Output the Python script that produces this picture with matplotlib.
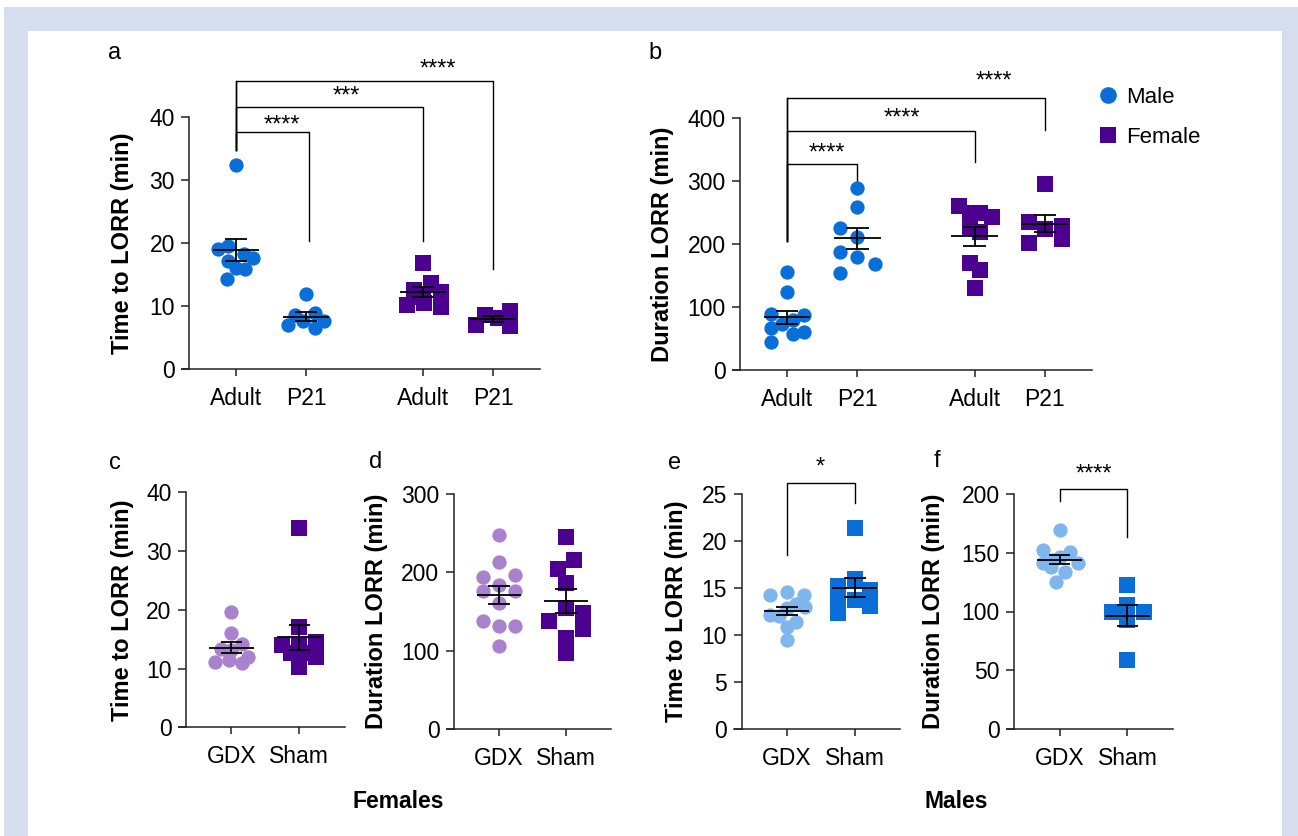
import numpy as np
import matplotlib
matplotlib.use("Agg")
import matplotlib.pyplot as plt
from matplotlib.patches import Rectangle
from matplotlib.lines import Line2D

plt.rcParams['font.family'] = ['Liberation Sans', 'DejaVu Sans']

# ---------------------------------------------------------------------------
# data (values, and horizontal jitter in category units)

# a: Time to LORR (min)
a_male_adult = [32.4, 19.0, 19.5, 18.3, 17.6, 17.1, 16.0, 15.8, 14.3]
a_male_adult_jit = [0, -0.25, -0.12, 0.12, 0.25, -0.12, 0, 0.13, -0.13]
a_male_p21 = [11.9, 8.6, 8.9, 7.0, 7.6, 7.6, 6.5]
a_male_p21_jit = [0, -0.15, 0.13, -0.25, -0.05, 0.25, 0.13]
a_female_adult = [16.8, 13.7, 12.6, 12.3, 11.5, 10.2, 10.5, 9.8]
a_female_adult_jit = [0, 0.12, -0.13, 0.25, 0, -0.23, 0.02, 0.25]
a_female_p21 = [8.6, 9.2, 7.0, 8.1, 6.9]
a_female_p21_jit = [-0.12, 0.24, -0.24, 0.07, 0.24]

# b: Duration LORR (min)
b_male_adult = [155.9, 123.1, 88.2, 87.2, 79.3, 72.9, 67.1, 56.5, 60.8, 44.9]
b_male_adult_jit = [0, 0, -0.23, 0.24, 0.08, -0.07, -0.23, 0.08, 0.24, -0.23]
b_male_p21 = [288, 258.4, 224.6, 211.4, 187.6, 179.7, 168.6, 153.2]
b_male_p21_jit = [0, 0, -0.24, 0, -0.24, 0, 0.25, -0.24]
b_female_adult = [260, 249.7, 249.7, 241.8, 225.4, 219.5, 170.3, 158.7, 130.6]
b_female_adult_jit = [-0.23, -0.07, 0.08, 0.25, -0.07, 0.08, -0.07, 0.08, 0]
b_female_p21 = [295, 235, 223.8, 228.6, 208, 202]
b_female_p21_jit = [0, -0.23, 0, 0.245, 0.245, -0.23]

# c / d: females, GDX vs Sham
c_gdx = [19.6, 16.0, 14.1, 13.4, 13.2, 12.0, 11.2, 11.4, 11.0]
c_gdx_jit = [0, 0, 0.15, -0.15, 0, 0.25, -0.24, -0.04, 0.15]
c_sham = [33.9, 17.1, 14.0, 14.6, 14.0, 12.6, 12.6, 12.0, 10.3, 11.8]
c_sham_jit = [0, 0, -0.25, 0.25, 0, -0.13, 0.12, 0.25, 0, 0]
d_gdx = [247.7, 213.6, 193.6, 196.2, 183.8, 176.6, 176.6, 161.3, 137.9, 131.9, 131.9, 106.4]
d_gdx_jit = [0, 0, -0.24, 0.24, 0, -0.24, 0.24, 0, -0.24, 0, 0.24, 0]
d_sham = [245.5, 215.7, 203.8, 186.8, 147.7, 137.9, 154.0, 127.7, 116.6, 97.4]
d_sham_jit = [0, 0.12, -0.12, 0, 0.25, -0.25, 0, 0.25, 0, 0]

# e / f: males, GDX vs Sham
e_gdx = [14.6, 14.3, 14.3, 13.3, 13.0, 12.85, 12.1, 11.4, 12.0, 10.9, 9.5]
e_gdx_jit = [0, -0.25, 0.25, 0.13, 0.27, 0, -0.25, 0.13, -0.12, 0, 0]
e_sham = [21.4, 16.0, 15.2, 14.8, 13.7, 13.1, 12.4, 13.8]
e_sham_jit = [0, 0, -0.25, 0.23, 0, 0.23, -0.25, -0.25]
f_gdx = [169.4, 152.3, 150.9, 146.0, 143.5, 141.0, 141.0, 138.0, 134.0, 125.4]
f_gdx_jit = [0, -0.24, 0.15, 0, -0.1, -0.24, 0.27, -0.12, 0.08, -0.05]
f_sham = [122.6, 105.5, 99.9, 99.9, 92.8, 58.7]
f_sham_jit = [0, 0, -0.23, 0.25, 0, 0]

age_labels = ['Adult', 'P21', 'Adult', 'P21']
surg_labels = ['GDX', 'Sham']

# ---------------------------------------------------------------------------
blue = '#0a6ed8'
purple = '#4b0090'
lilac = '#a882cc'
skyblue = '#80b6ee'

W, H = 1298, 836
fig = plt.figure(figsize=(W / 100, H / 100), dpi=100)
fig.patch.set_facecolor('white')
fig.patches.append(Rectangle((4 / W, 0), 1 - 4 / W, 1 - 7 / H, transform=fig.transFigure,
                             facecolor='#d5ddef', edgecolor='none', zorder=-2))
fig.patches.append(Rectangle((28 / W, 0), (1282 - 28) / W, 1 - 31 / H, transform=fig.transFigure,
                             facecolor='white', edgecolor='none', zorder=-1))


def make_axes(left, right, top, bottom):
    ax = fig.add_axes([left / W, 1 - bottom / H, (right - left) / W, (bottom - top) / H])
    ax.set_facecolor('none')
    return ax


def style(ax, xpos, labels, ymax, ystep, ylabel, ylab_x):
    ax.set_xlim(-0.77, xpos[-1] + 0.67)
    ax.set_ylim(0, ymax)
    for s in ['top', 'right']:
        ax.spines[s].set_visible(False)
    ax.spines['left'].set_position(('data', -0.665))
    ax.spines['left'].set_bounds(0, ymax)
    for s in ['left', 'bottom']:
        ax.spines[s].set_linewidth(1.1)
        ax.spines[s].set_color('#222222')
    ax.set_xticks(xpos)
    ax.set_xticklabels(labels, fontsize=16.5)
    ax.set_yticks(np.arange(0, ymax + 0.1, ystep))
    ax.tick_params(axis='x', length=5, width=1.1, pad=8, colors='#222222', labelcolor='black')
    ax.tick_params(axis='y', length=5.5, width=1.1, pad=5, colors='#222222', labelcolor='black',
                   labelsize=16.5)
    ax.set_ylabel(ylabel, fontsize=17, fontweight='bold', va='center')
    pos = ax.get_position()
    ax.yaxis.set_label_coords((ylab_x / W - pos.x0) / pos.width, 0.5)


def group(ax, x, vals, jit, color, marker):
    vals = np.asarray(vals, dtype=float)
    ms = 10.3 if marker == 'o' else 11.0
    ax.plot(x + np.asarray(jit), vals, linestyle='none', marker=marker, ms=ms,
            color=color, mew=0, zorder=2, clip_on=False)
    m = vals.mean()
    sem = vals.std(ddof=1) / np.sqrt(len(vals))
    kw = dict(color='black', lw=1.3, zorder=3, solid_capstyle='butt')
    ax.plot([x - 0.33, x + 0.33], [m, m], **kw)
    ax.plot([x - 0.16, x + 0.16], [m + sem, m + sem], **kw)
    ax.plot([x - 0.16, x + 0.16], [m - sem, m - sem], **kw)
    ax.plot([x, x], [m - sem, m + sem], **kw)


def bracket(ax, x0, x1, y0, yh, y1, stars, sx, sy):
    ax.plot([x0, x0, x1, x1], [y0, yh, yh, y1], color='black', lw=1.0, clip_on=False, zorder=1)
    ax.text(sx, sy, stars, ha='center', va='center', fontsize=17, clip_on=False)


age_pos = [0, 1, 2.67, 3.67]
surg_pos = [0, 1]

# panel a
ax_a = make_axes(182, 540, 117, 369)
group(ax_a, age_pos[0], a_male_adult, a_male_adult_jit, blue, 'o')
group(ax_a, age_pos[1], a_male_p21, a_male_p21_jit, blue, 'o')
group(ax_a, age_pos[2], a_female_adult, a_female_adult_jit, purple, 's')
group(ax_a, age_pos[3], a_female_p21, a_female_p21_jit, purple, 's')
style(ax_a, age_pos, age_labels, 40, 10, 'Time to LORR (min)', 123)
ax_a.plot([0, 0], [34.8, 45.7], color='black', lw=1.0, clip_on=False)
bracket(ax_a, 0, 1.04, 34.8, 37.6, 20.3, '****', 0.65, 38.6)
bracket(ax_a, 0, age_pos[2], 34.8, 41.6, 20.3, '***', 1.57, 43.2)
bracket(ax_a, 0, age_pos[3], 34.8, 45.7, 15.9, '****', 2.88, 47.6)

# panel b
ax_b = make_axes(733, 1092, 117.7, 370)
group(ax_b, age_pos[0], b_male_adult, b_male_adult_jit, blue, 'o')
group(ax_b, age_pos[1], b_male_p21, b_male_p21_jit, blue, 'o')
group(ax_b, age_pos[2], b_female_adult, b_female_adult_jit, purple, 's')
group(ax_b, age_pos[3], b_female_p21, b_female_p21_jit, purple, 's')
style(ax_b, age_pos, age_labels, 400, 100, 'Duration LORR (min)', 662)
ax_b.plot([0, 0], [204.5, 431.7], color='black', lw=1.0, clip_on=False)
bracket(ax_b, 0, 1, 204.5, 326.5, 279, '****', 0.56, 343)
bracket(ax_b, 0, age_pos[2], 204.5, 379, 329, '****', 1.64, 399)
bracket(ax_b, 0, age_pos[3], 204.5, 431.7, 380, '****', 2.95, 458)

handles = [Line2D([], [], linestyle='none', marker='o', ms=12, color=blue, mew=0),
           Line2D([], [], linestyle='none', marker='s', ms=11.5, color=purple, mew=0)]
ax_b.legend(handles, ['Male', 'Female'], loc='upper left', bbox_to_anchor=(1098 / W, 1 - 87 / H),
            bbox_transform=fig.transFigure, frameon=False, fontsize=16, handlelength=0.9,
            handletextpad=0.35, labelspacing=0.85, borderaxespad=0, borderpad=0)

# panel c
ax_c = make_axes(179, 345, 492.3, 727.3)
group(ax_c, 0, c_gdx, c_gdx_jit, lilac, 'o')
group(ax_c, 1, c_sham, c_sham_jit, purple, 's')
style(ax_c, surg_pos, surg_labels, 40, 10, 'Time to LORR (min)', 122)

# panel d
ax_d = make_axes(447, 611, 494, 729)
group(ax_d, 0, d_gdx, d_gdx_jit, lilac, 'o')
group(ax_d, 1, d_sham, d_sham_jit, purple, 's')
style(ax_d, surg_pos, surg_labels, 300, 100, 'Duration LORR (min)', 376)

# panel e
ax_e = make_axes(734.4, 900.2, 494, 729.3)
group(ax_e, 0, e_gdx, e_gdx_jit, skyblue, 'o')
group(ax_e, 1, e_sham, e_sham_jit, blue, 's')
style(ax_e, surg_pos, surg_labels, 25, 5, 'Time to LORR (min)', 676)
bracket(ax_e, 0, 1, 18.5, 26.2, 24.0, '*', 0.5, 27.8)

# panel f
ax_f = make_axes(1007.2, 1173, 494, 729)
group(ax_f, 0, f_gdx, f_gdx_jit, skyblue, 'o')
group(ax_f, 1, f_sham, f_sham_jit, blue, 's')
style(ax_f, surg_pos, surg_labels, 200, 50, 'Duration LORR (min)', 934)
bracket(ax_f, 0, 1, 194, 204, 163.7, '****', 0.5, 216.5)

# panel letters and group titles
for letter, (px, py) in zip('abcdef', [(115, 53), (655, 53), (115, 463), (376, 462),
                                         (675, 463), (937, 461)]):
    fig.text(px / W, 1 - py / H, letter, fontsize=17, ha='center', va='center')
fig.text(398 / W, 1 - 801 / H, 'Females', fontsize=16.5, fontweight='bold', ha='center', va='center')
fig.text(956 / W, 1 - 801 / H, 'Males', fontsize=16.5, fontweight='bold', ha='center', va='center')

fig.savefig('out.png', dpi=100)
